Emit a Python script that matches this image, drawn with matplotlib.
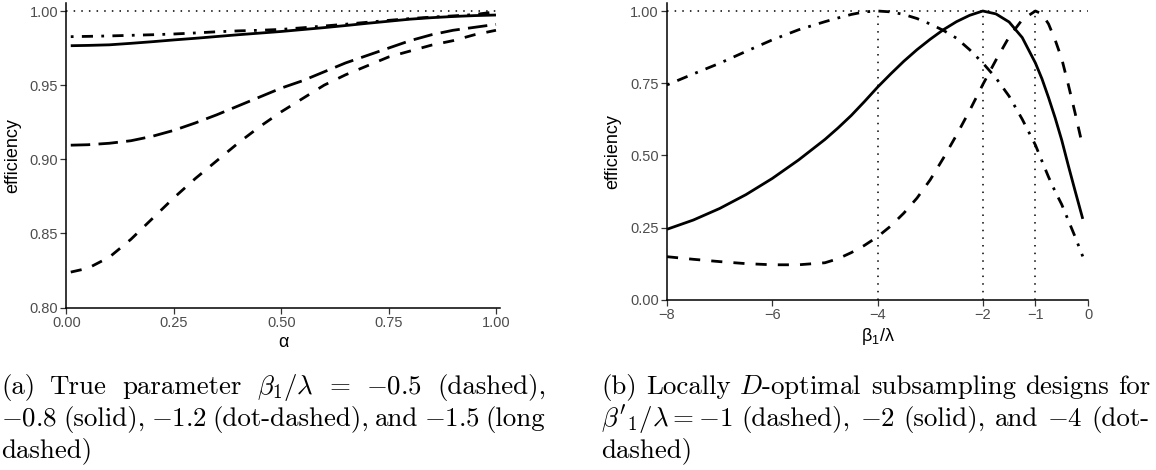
import matplotlib
matplotlib.use("Agg")
import matplotlib.pyplot as plt

plt.rcParams['font.family'] = ['Liberation Sans', 'DejaVu Sans']
plt.rcParams['mathtext.fontset'] = 'custom'
plt.rcParams['mathtext.rm'] = 'Liberation Sans'
plt.rcParams['mathtext.it'] = 'Liberation Sans:italic'

# (a) efficiency against alpha, one curve per true beta1/lambda
alpha = [0.01, 0.05, 0.10, 0.15, 0.20, 0.25, 0.30, 0.35, 0.40, 0.45, 0.50,
         0.55, 0.60, 0.65, 0.70, 0.75, 0.80, 0.85, 0.90, 0.95, 1.00]
eff_m05 = [0.8239, 0.8265, 0.834, 0.846, 0.860, 0.874, 0.887, 0.899, 0.911, 0.922, 0.932,
           0.941, 0.950, 0.957, 0.963, 0.969, 0.973, 0.977, 0.980, 0.984, 0.987]
eff_m08 = [0.9766, 0.9768, 0.9772, 0.9782, 0.9793, 0.9805, 0.9816, 0.9828, 0.9840, 0.9851, 0.9862,
           0.9875, 0.9888, 0.9902, 0.9917, 0.9931, 0.9945, 0.9955, 0.9963, 0.9969, 0.9973]
eff_m12 = [0.9827, 0.9829, 0.9832, 0.9836, 0.9840, 0.9845, 0.9852, 0.9860, 0.9866, 0.9870, 0.9876,
           0.9887, 0.9899, 0.9911, 0.9924, 0.9937, 0.9949, 0.9959, 0.9967, 0.9976, 0.9995]
eff_m15 = [0.9095, 0.9098, 0.9108, 0.9125, 0.9155, 0.9195, 0.9245, 0.930, 0.936, 0.942, 0.948,
           0.953, 0.959, 0.965, 0.970, 0.975, 0.980, 0.984, 0.987, 0.989, 0.991]

# (b) efficiency against beta1/lambda for three locally optimal designs
beta = [-8, -7.5, -7, -6.5, -6, -5.5, -5, -4.75, -4.5, -4.25, -4, -3.75, -3.5, -3.25,
        -3, -2.75, -2.5, -2.25, -2, -1.75, -1.5, -1.25, -1, -0.875, -0.75, -0.625,
        -0.5, -0.375, -0.25, -0.1]
des_m1 = [0.149, 0.140, 0.132, 0.125, 0.121, 0.121, 0.128, 0.142, 0.163, 0.188, 0.218, 0.255,
          0.300, 0.352, 0.415, 0.490, 0.570, 0.655, 0.745, 0.830, 0.910, 0.970, 1.000, 0.990,
          0.955, 0.900, 0.835, 0.745, 0.650, 0.530]
des_m2 = [0.244, 0.276, 0.316, 0.364, 0.420, 0.484, 0.555, 0.595, 0.638, 0.686, 0.736, 0.782,
          0.826, 0.866, 0.902, 0.935, 0.963, 0.985, 1.000, 0.990, 0.962, 0.908, 0.820, 0.765,
          0.700, 0.630, 0.553, 0.465, 0.380, 0.280]
des_m4 = [0.744, 0.782, 0.819, 0.860, 0.900, 0.935, 0.963, 0.976, 0.988, 0.997, 1.000, 0.997,
          0.988, 0.974, 0.955, 0.933, 0.906, 0.866, 0.820, 0.768, 0.705, 0.625, 0.536, 0.480,
          0.425, 0.375, 0.330, 0.275, 0.220, 0.150]
design_points = [-4, -2, -1]

a_xticks = [0.0, 0.25, 0.5, 0.75, 1.0]
a_xlabels = ['0.00', '0.25', '0.50', '0.75', '1.00']
a_yticks = [0.80, 0.85, 0.90, 0.95, 1.00]
a_ylabels = ['0.80', '0.85', '0.90', '0.95', '1.00']
b_xticks = [-8, -6, -4, -2, -1, 0]
b_xlabels = ['\u22128', '\u22126', '\u22124', '\u22122', '\u22121', '0']
b_yticks = [0.0, 0.25, 0.5, 0.75, 1.0]
b_ylabels = ['0.00', '0.25', '0.50', '0.75', '1.00']

LW = 2.0
solid = dict(color='black', lw=LW, solid_capstyle='butt', solid_joinstyle='round')
dashed = dict(color='black', lw=LW, ls=(0, (4, 4)))
dotdash = dict(color='black', lw=LW, ls=(0, (1, 3, 4, 3)))
longdash = dict(color='black', lw=LW, ls=(0, (7, 3)))
dotted = dict(color='black', lw=1.1, ls=(0, (1, 4)))

fig = plt.figure(figsize=(11.56, 4.70), dpi=100)
ax1 = fig.add_axes([0.0575, 0.3457, 0.3750, 0.6479])
ax2 = fig.add_axes([0.5770, 0.3623, 0.3642, 0.6313])

ax1.plot([0, 1], [1, 1], **dotted)
ax1.plot(alpha, eff_m15, **longdash)
ax1.plot(alpha, eff_m05, **dashed)
ax1.plot(alpha, eff_m08, **solid)
ax1.plot(alpha, eff_m12, **dotdash)
ax1.set_xlim(0, 1.0093)
ax1.set_ylim(0.80, 1.0054)
ax1.set_xticks(a_xticks, a_xlabels)
ax1.set_yticks(a_yticks, a_ylabels)
ax1.set_xlabel('\u03b1', fontsize=13, labelpad=3)
ax1.set_ylabel('efficiency', fontsize=13, labelpad=6)

ax2.plot([-8, 0], [1, 1], **dotted)
for b in design_points:
    ax2.plot([b, b], [0, 1], **dotted)
ax2.plot(beta, des_m1, **dashed)
ax2.plot(beta, des_m2, **solid)
ax2.plot(beta, des_m4, **dotdash)
ax2.set_xlim(-8, 0)
ax2.set_ylim(0, 1.0277)
ax2.set_xticks(b_xticks, b_xlabels)
ax2.set_yticks(b_yticks, b_ylabels)
ax2.set_xlabel(r'$\mathregular{\beta_1/\lambda}$', fontsize=13, labelpad=3)
ax2.set_ylabel('efficiency', fontsize=13, labelpad=6)

for ax in (ax1, ax2):
    for s in ('top', 'right'):
        ax.spines[s].set_visible(False)
    for s in ('left', 'bottom'):
        ax.spines[s].set_linewidth(1.1)
    ax.tick_params(direction='out', length=4, width=0.9, color='#333333',
                   labelcolor='#4D4D4D', labelsize=10.5, pad=2)

# captions, set like the LaTeX subfigure captions (justified lines)
W, H = fig.bbox.width, fig.bbox.height
renderer = fig.canvas.get_renderer()


def text_width(s, size):
    t = fig.text(0, 0, s, fontsize=size, family='cmr10', math_fontfamily='cm')
    w = t.get_window_extent(renderer).width
    t.remove()
    return w


# size the caption font so the first (b) line fills its 550 px column
CAP_FS = 17 * 550 / text_width('(b) Locally $D$-optimal subsampling designs for', 17)


def caption_line(tokens, x0, x1, ybase, fill=True):
    texts = [fig.text(0, 1 - ybase / H, t, fontsize=CAP_FS, family='cmr10',
                      math_fontfamily='cm', va='baseline') for t in tokens]
    widths = [t.get_window_extent(renderer).width for t in texts]
    if fill and len(texts) > 1:
        gap = (x1 - x0 - sum(widths)) / (len(texts) - 1)
    else:
        gap = CAP_FS * 0.45
    x = x0
    for t, w in zip(texts, widths):
        t.set_x(x / W)
        x += w + gap


caption_line(['(a)', 'True', 'parameter', r'$\beta_1/\lambda$', '=', r'$-0.5$', '(dashed),'],
             1, 546, 394)
caption_line([r'$-0.8$', '(solid),', r'$-1.2$', '(dot-dashed),', 'and', r'$-1.5$', '(long'],
             1, 545, 426)
caption_line(['dashed)'], 1, 545, 457, fill=False)

caption_line(['(b)', 'Locally', r'$D$-optimal', 'subsampling', 'designs', 'for'],
             601, 1150, 394)
caption_line([r"$\beta'_1/\lambda = -1$", '(dashed),', r'$-2$', '(solid),', 'and', r'$-4$', '(dot-'],
             601, 1150, 426)
caption_line(['dashed)'], 601, 1150, 457, fill=False)

fig.savefig('out.png', dpi=100)
